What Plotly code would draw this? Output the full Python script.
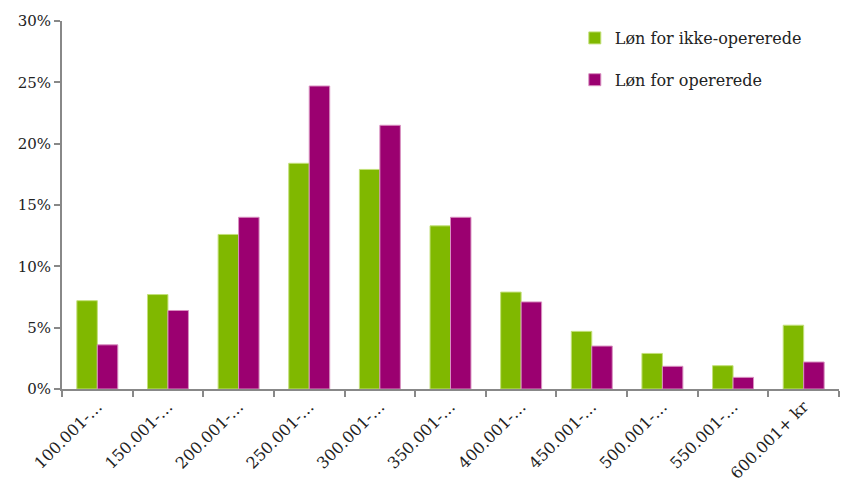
import plotly.graph_objects as go

categories = ["100.001-…", "150.001-…", "200.001-…", "250.001-…", "300.001-…",
              "350.001-…", "400.001-…", "450.001-…", "500.001-…", "550.001-…", "600.001+ kr"]
ikke_opererede = [7.2, 7.7, 12.6, 18.4, 17.9, 13.3, 7.9, 4.7, 2.9, 1.9, 5.2]
opererede = [3.6, 6.4, 14.0, 24.7, 21.5, 14.0, 7.1, 3.5, 1.85, 0.95, 2.2]
series_names = ["Løn for ikke-opererede", "Løn for opererede"]
y_ticks = [0, 5, 10, 15, 20, 25, 30]

FONT = "DejaVu Serif"
GREEN = "#80b800"
PURPLE = "#9b0070"

fig = go.Figure()
fig.add_trace(go.Bar(x=categories, y=ikke_opererede, name=series_names[0],
                     marker=dict(color=GREEN, line=dict(color="#c3e07a", width=1)),
                     legendgroup="a"))
fig.add_trace(go.Bar(x=categories, y=opererede, name=series_names[1],
                     marker=dict(color=PURPLE, line=dict(color="#d890c0", width=1)),
                     legendgroup="b"))

fig.update_layout(
    width=842, height=483,
    margin=dict(l=62, r=3, t=21, b=94),
    paper_bgcolor="white", plot_bgcolor="white",
    barmode="group", bargap=0.42, bargroupgap=0,
    font=dict(family=FONT, size=15, color="#222"),
    showlegend=True,
    legend=dict(x=0.66, y=1.0, xanchor="left", yanchor="top",
                font=dict(family=FONT, size=16, color="#222"),
                tracegroupgap=18, itemwidth=30, bgcolor="rgba(0,0,0,0)"),
    xaxis=dict(showline=True, linecolor="#888", linewidth=2,
               ticks="outside", tickcolor="#888", ticklen=6, tickwidth=2,
               tickson="boundaries", tickangle=-45, automargin=False,
               tickfont=dict(family=FONT, size=16, color="#222"),
               showgrid=False),
    yaxis=dict(range=[0, 30], tickvals=y_ticks, ticktext=[f"{v}%" for v in y_ticks],
               showline=True, linecolor="#888", linewidth=2,
               ticks="outside", tickcolor="#888", ticklen=6, tickwidth=2,
               showgrid=False, zeroline=False, automargin=False,
               tickfont=dict(family=FONT, size=15, color="#222")),
)

fig.write_html("out.html")
